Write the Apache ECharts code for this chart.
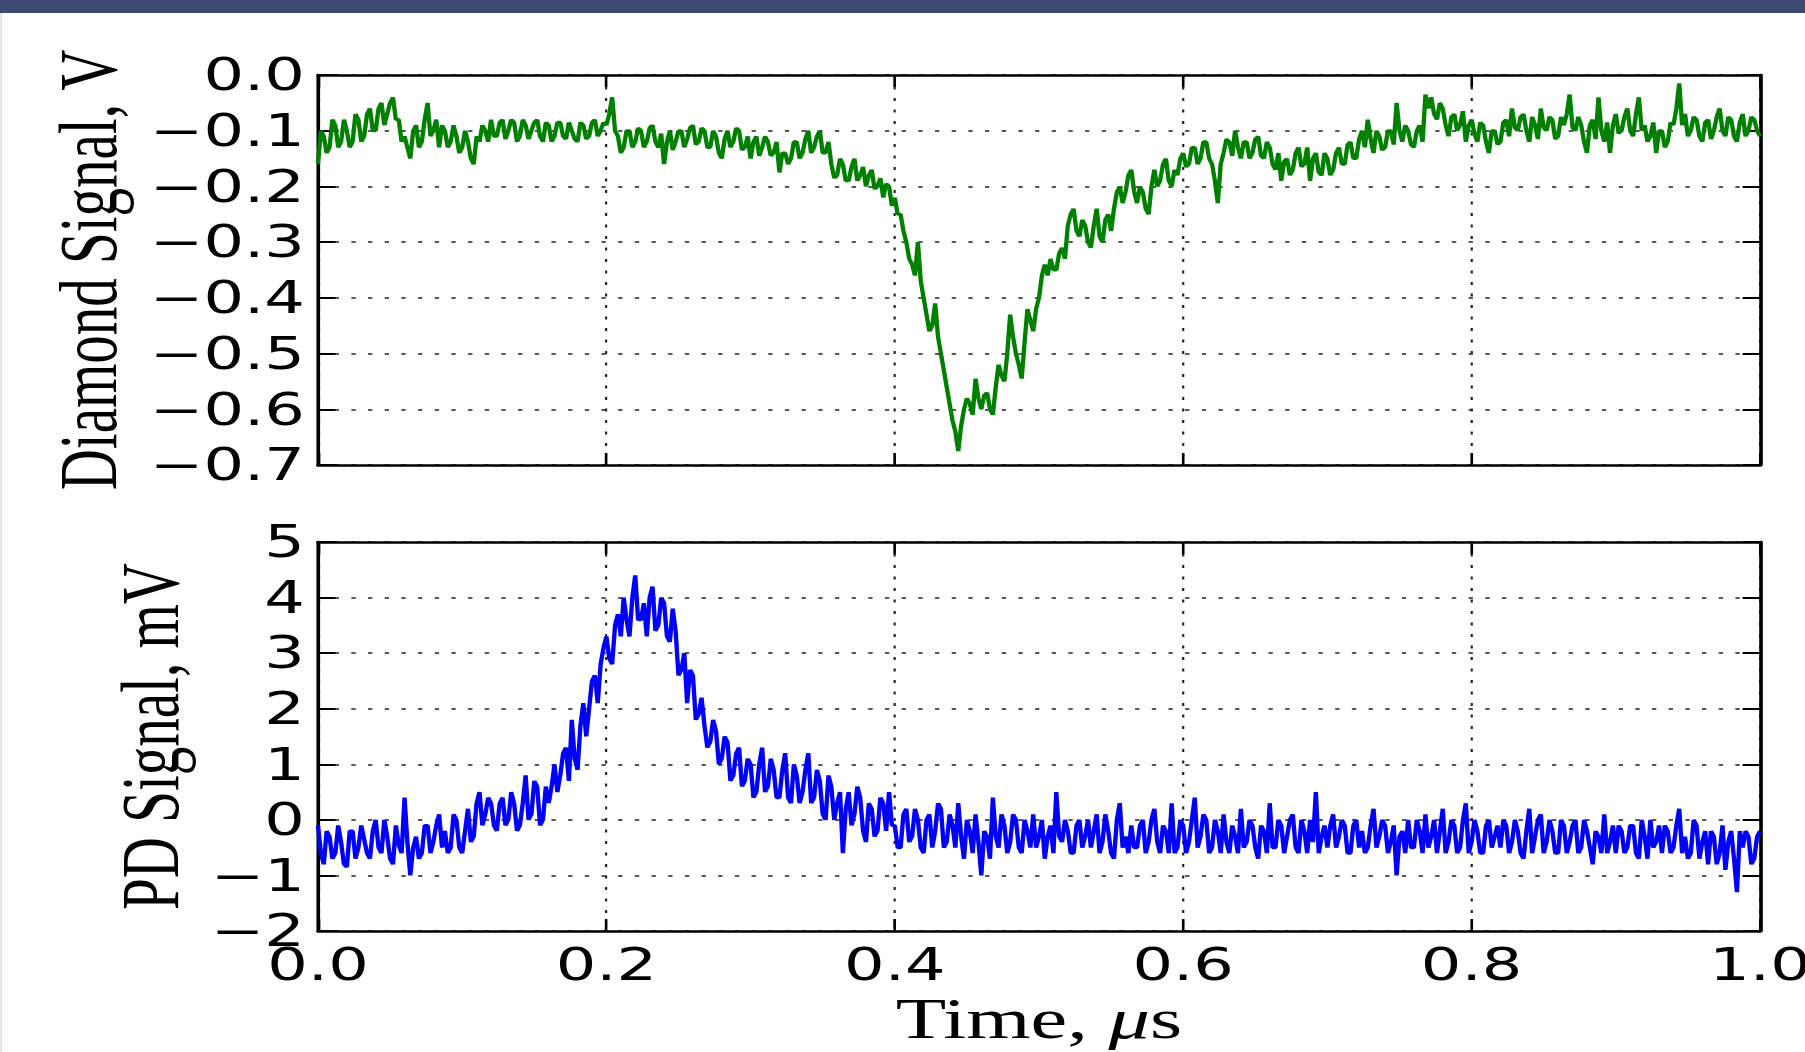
<!DOCTYPE html>
<html><head><meta charset="utf-8">
<script src="https://cdn.jsdelivr.net/npm/echarts@6/dist/echarts.min.js"></script>
<style>
html,body{margin:0;padding:0;width:1805px;height:1052px;overflow:hidden;background:#fff;}
#band{position:absolute;left:0;top:0;width:1805px;height:13px;background:#3d4873;}
#edge{position:absolute;left:0;top:13px;width:2px;height:1039px;background:#e4e4e4;}
#chart{position:absolute;left:0;top:0;height:1052px;transform-origin:0 0;}
</style></head><body>
<div id="chart"></div><div id="band"></div><div id="edge"></div>
<script>
// ---- data ----
const SAMPLE_STEP_US = 0.002;   // samples alternate: "AtGrid" (t = 0, 0.004, ...) and "Between" (t = 0.002, 0.006, ...)
const timeTickLabels = ['0.0', '0.2', '0.4', '0.6', '0.8', '1.0'];
const diamondTickLabels = ['\u22120.7', '\u22120.6', '\u22120.5', '\u22120.4', '\u22120.3', '\u22120.2', '\u22120.1', '0.0'];
const pdTickLabels = ['\u22122', '\u22121', '0', '1', '2', '3', '4', '5'];

const diamondAtGrid = [
 -0.16,-0.11,-0.13,-0.09,-0.12,-0.10,-0.12,-0.08,-0.11,-0.06,
 -0.10,-0.05,-0.07,-0.04,-0.08,-0.11,-0.15,-0.09,-0.12,-0.05,
 -0.10,-0.13,-0.10,-0.12,-0.11,
 -0.13,-0.12,-0.16,-0.12,-0.10,-0.08,-0.11,-0.08,-0.10,-0.085,
 -0.11,-0.09,-0.10,-0.08,-0.12,-0.09,-0.11,-0.085,-0.115,-0.10,
 -0.12,-0.09,-0.11,-0.08,-0.10,
 -0.09,-0.04,-0.11,-0.13,-0.10,-0.12,-0.10,-0.12,-0.09,-0.13,
 -0.16,-0.10,-0.12,-0.10,-0.115,-0.09,-0.12,-0.10,-0.13,-0.11,
 -0.15,-0.10,-0.12,-0.10,-0.13,
 -0.15,-0.11,-0.13,-0.12,-0.14,-0.175,-0.14,-0.15,-0.12,-0.14,
 -0.10,-0.13,-0.10,-0.14,-0.16,-0.18,-0.16,-0.19,-0.15,-0.18,
 -0.20,-0.17,-0.20,-0.22,-0.20,
 -0.22,-0.25,-0.30,-0.34,-0.30,-0.40,-0.46,-0.41,-0.50,-0.56,
 -0.62,-0.675,-0.60,-0.59,-0.545,-0.60,-0.57,-0.61,-0.52,-0.55,
 -0.43,-0.50,-0.545,-0.42,-0.46,
 -0.40,-0.34,-0.33,-0.35,-0.31,-0.27,-0.24,-0.29,-0.27,-0.31,
 -0.24,-0.30,-0.25,-0.24,-0.20,-0.21,-0.17,-0.23,-0.21,-0.25,
 -0.17,-0.19,-0.15,-0.20,-0.18,
 -0.14,-0.16,-0.13,-0.15,-0.12,-0.16,-0.23,-0.14,-0.12,-0.10,
 -0.15,-0.12,-0.14,-0.11,-0.15,-0.13,-0.17,-0.19,-0.15,-0.17,
 -0.13,-0.16,-0.19,-0.14,-0.18,
 -0.15,-0.17,-0.13,-0.16,-0.12,-0.15,-0.10,-0.08,-0.14,-0.11,
 -0.13,-0.10,-0.05,-0.12,-0.10,-0.13,-0.09,-0.035,-0.04,-0.08,
 -0.06,-0.11,-0.07,-0.09,-0.12,
 -0.08,-0.12,-0.09,-0.14,-0.10,-0.12,-0.08,-0.06,-0.10,-0.07,
 -0.12,-0.09,-0.06,-0.10,-0.08,-0.11,-0.09,-0.035,-0.10,-0.09,
 -0.14,-0.08,-0.04,-0.12,-0.14,
 -0.07,-0.10,-0.06,-0.11,-0.04,-0.09,-0.11,-0.14,-0.10,-0.12,
 -0.09,-0.015,-0.07,-0.10,-0.08,-0.12,-0.08,-0.10,-0.06,-0.11,
 -0.08,-0.12,-0.07,-0.10,-0.08,-0.11
];
const diamondBetween = [
 -0.10,-0.14,-0.08,-0.13,-0.08,-0.13,-0.07,-0.12,-0.07,-0.10,
 -0.06,-0.09,-0.05,-0.08,-0.12,-0.13,-0.10,-0.13,-0.08,-0.11,
 -0.08,-0.09,-0.13,-0.09,-0.14,
 -0.10,-0.15,-0.11,-0.09,-0.12,-0.11,-0.085,-0.115,-0.08,-0.12,
 -0.08,-0.115,-0.085,-0.11,-0.085,-0.12,-0.085,-0.11,-0.085,-0.115,
 -0.085,-0.115,-0.085,-0.11,-0.085,
 -0.07,-0.10,-0.14,-0.10,-0.13,-0.095,-0.13,-0.095,-0.12,-0.105,
 -0.12,-0.135,-0.10,-0.13,-0.095,-0.125,-0.095,-0.13,-0.10,-0.14,
 -0.115,-0.13,-0.095,-0.135,-0.11,
 -0.12,-0.145,-0.11,-0.145,-0.12,-0.14,-0.16,-0.12,-0.15,-0.115,
 -0.14,-0.11,-0.14,-0.12,-0.185,-0.15,-0.19,-0.165,-0.19,-0.165,
 -0.18,-0.205,-0.185,-0.195,-0.235,
 -0.25,-0.28,-0.33,-0.36,-0.37,-0.43,-0.45,-0.47,-0.53,-0.59,
 -0.64,-0.63,-0.58,-0.61,-0.58,-0.575,-0.60,-0.56,-0.54,-0.50,
 -0.47,-0.52,-0.48,-0.44,-0.42,
 -0.36,-0.36,-0.35,-0.32,-0.33,-0.25,-0.28,-0.26,-0.30,-0.27,
 -0.29,-0.26,-0.28,-0.21,-0.23,-0.18,-0.21,-0.20,-0.24,-0.20,
 -0.20,-0.16,-0.19,-0.17,-0.15,
 -0.165,-0.13,-0.16,-0.12,-0.15,-0.19,-0.16,-0.115,-0.145,-0.13,
 -0.12,-0.15,-0.115,-0.145,-0.12,-0.16,-0.14,-0.155,-0.18,-0.14,
 -0.165,-0.13,-0.15,-0.175,-0.14,
 -0.18,-0.14,-0.16,-0.125,-0.15,-0.115,-0.13,-0.115,-0.10,-0.135,
 -0.10,-0.125,-0.10,-0.09,-0.125,-0.10,-0.12,-0.06,-0.07,-0.05,
 -0.09,-0.075,-0.10,-0.065,-0.09,
 -0.105,-0.085,-0.12,-0.10,-0.125,-0.085,-0.11,-0.095,-0.075,-0.10,
 -0.075,-0.115,-0.095,-0.075,-0.115,-0.075,-0.07,-0.095,-0.075,-0.12,
 -0.09,-0.115,-0.10,-0.085,-0.09,
 -0.105,-0.075,-0.10,-0.07,-0.10,-0.12,-0.085,-0.10,-0.13,-0.085,
 -0.06,-0.09,-0.11,-0.075,-0.11,-0.085,-0.115,-0.075,-0.10,-0.075,
 -0.11,-0.085,-0.11,-0.075,-0.10
];

const pdAtGrid = [
 -0.1,-0.8,-0.3,-0.6,-0.4,-0.85,-0.2,-0.5,-0.35,-0.7,
 0.0,-0.6,-0.3,-0.8,-0.45,0.4,-1.0,-0.3,-0.6,-0.1,
 -0.4,0.1,-0.2,-0.5,0.0,
 -0.6,0.2,-0.3,0.5,0.1,0.3,-0.2,0.4,0.0,0.3,
 -0.1,0.8,0.1,0.6,0.0,0.3,1.0,0.8,1.3,1.8,
 0.9,2.1,2.0,2.6,2.8,
 3.3,2.8,3.7,4.0,3.3,4.4,3.6,3.3,4.2,3.5,
 3.9,3.2,3.4,2.7,2.1,2.6,1.9,1.7,1.4,1.6,
 1.1,1.4,0.8,1.3,0.7,
 1.0,0.5,1.3,0.6,0.9,0.4,1.2,0.3,0.8,0.5,
 1.2,0.4,0.7,0.0,0.6,0.3,-0.6,0.5,0.1,0.4,
 -0.4,0.2,-0.2,0.3,0.5,
 -0.1,-0.5,0.2,-0.3,0.0,-0.6,0.1,-0.2,0.2,-0.4,
 -0.1,0.3,-0.7,-0.2,0.1,-1.0,-0.3,0.4,-0.5,-0.1,
 -0.4,0.0,-0.6,-0.2,0.1,
 -0.3,-0.7,-0.1,0.5,-0.4,-0.2,-0.6,0.0,-0.3,-0.5,
 0.1,-0.4,-0.2,-0.7,0.3,-0.3,-0.1,-0.5,0.0,-0.4,
 0.2,-0.6,-0.2,0.3,-0.5,
 -0.1,-0.4,0.4,-0.3,0.0,-0.5,-0.2,0.1,-0.6,-0.3,
 0.2,-0.4,-0.1,-0.7,-0.2,0.3,-0.5,-0.1,-0.3,0.1,
 -0.6,-0.2,0.0,0.5,-0.3,
 -0.5,0.1,-0.3,-0.1,-0.6,0.0,-0.2,-0.5,0.2,-0.3,
 -0.1,-0.4,-1.0,-0.2,0.0,-0.5,-0.2,0.1,-0.3,-0.6,
 0.2,-0.4,-0.1,-0.5,0.3,
 -0.4,-0.2,-0.6,0.0,-0.3,-0.5,-0.1,-0.4,-0.2,-0.7,
 0.2,-0.3,0.1,-0.4,-0.2,-0.6,-0.1,-0.4,0.0,-0.5,
 -0.2,-0.8,-0.3,0.1,-0.4,
 -0.6,-0.2,-0.5,-0.1,-0.7,-0.3,0.0,-0.4,-0.6,-0.2,
 -0.5,0.2,-0.3,-0.6,-0.1,-0.4,-0.8,-0.3,-0.6,-0.9,
 -0.2,-1.3,-0.5,-0.3,-0.7,-0.2
];
const pdBetween = [
 -0.6,-0.2,-0.7,-0.1,-0.8,-0.2,-0.7,-0.1,-0.6,-0.2,
 -0.5,0.0,-0.7,-0.1,-0.6,-0.4,-0.5,-0.7,-0.1,-0.6,
 -0.1,-0.5,-0.6,0.1,-0.5,
 -0.2,-0.4,0.3,-0.1,0.4,-0.1,0.3,-0.1,0.5,-0.2,
 0.3,0.0,0.7,-0.1,0.6,0.6,0.5,1.2,0.7,1.1,
 1.7,1.5,2.5,2.1,3.1,
 2.9,3.5,3.3,3.6,4.0,3.6,3.9,4.0,3.4,4.0,
 3.3,3.8,2.6,3.0,2.7,1.8,2.2,1.3,1.8,1.0,
 1.5,0.7,1.2,0.6,1.1,
 0.4,1.0,0.5,1.1,0.4,0.9,0.4,1.0,0.3,0.9,
 0.3,0.9,0.1,0.8,0.0,0.5,0.2,-0.1,0.6,-0.2,
 0.3,-0.3,0.4,-0.2,-0.1,
 -0.5,0.1,-0.4,0.2,-0.5,0.0,-0.5,0.3,-0.5,0.1,
 -0.5,-0.3,0.0,-0.6,-0.4,-0.2,-0.7,-0.3,0.1,-0.6,
 0.1,-0.5,0.0,-0.5,-0.5,
 0.0,-0.3,-0.6,-0.3,0.0,-0.6,-0.1,-0.5,0.0,-0.2,
 -0.6,0.1,-0.6,0.0,-0.5,-0.6,-0.5,-0.1,-0.6,0.0,
 -0.4,-0.1,-0.6,-0.6,0.0,
 -0.6,0.0,-0.5,0.1,-0.6,0.0,-0.6,-0.4,-0.1,-0.6,
 -0.5,0.0,-0.5,-0.1,-0.6,-0.5,0.0,-0.6,0.0,-0.5,
 0.0,-0.6,-0.4,-0.6,-0.1,
 -0.1,-0.5,0.0,-0.6,-0.1,-0.5,-0.6,-0.1,-0.5,0.0,
 -0.6,-0.1,-0.3,-0.6,-0.5,0.0,-0.6,-0.5,0.0,-0.2,
 -0.6,0.0,-0.6,0.0,-0.6,
 0.0,-0.6,-0.1,-0.5,-0.1,0.0,-0.6,0.0,-0.6,-0.2,
 -0.6,0.0,-0.6,0.0,-0.6,0.0,-0.6,-0.1,-0.6,0.0,
 -0.5,-0.2,-0.6,-0.6,-0.1,
 -0.1,-0.6,-0.1,-0.6,0.0,-0.7,-0.5,-0.1,-0.1,-0.6,
 -0.1,-0.6,-0.7,0.0,-0.7,-0.2,-0.2,-0.8,-0.1,-0.4,
 -0.7,-0.2,-0.2,-0.8,-0.3
];

// ---- build sample table (alternating grid / between samples) ----
function buildSeries(atGrid, between) {
  const out = [];
  for (let i = 0; i < atGrid.length; i++) {
    out.push([+(2 * i * SAMPLE_STEP_US).toFixed(4), atGrid[i]]);
    if (i < between.length) out.push([+((2 * i + 1) * SAMPLE_STEP_US).toFixed(4), between[i]]);
  }
  return out;
}

// ---- layout ----
const STRETCH = 1.45;              // reference is horizontally stretched
const W0 = 1805 / STRETCH;
const el = document.getElementById('chart');
el.style.width = W0 + 'px';
el.style.transform = 'scaleX(' + STRETCH + ')';
const chart = echarts.init(el, null, { renderer: 'svg', width: W0, height: 1052 });

const px = v => v / STRETCH;
const plotLeft = px(318), plotW = px(1760 - 318);

const tickFont = { fontFamily: 'DejaVu Sans', fontSize: 44, color: '#000' };
const NAME_SIZE = 57;
const nameFont = { fontFamily: 'Liberation Serif', fontSize: NAME_SIZE, color: '#000' };
const spine = { show: true, onZero: false, lineStyle: { color: '#000', width: 2.5 } };
const gridDash = { show: true, lineStyle: { color: '#222', width: 1.5, type: [3, 8.5] } };
const tickX = { show: true, inside: true, length: 12, lineStyle: { color: '#000', width: 1.8 } };
const tickY = { show: true, inside: true, length: 12, lineStyle: { color: '#000', width: 2 } };

function labelFrom(labels, min, step) {
  return v => labels[Math.round((v - min) / step)] || '';
}
const xLab = labelFrom(timeTickLabels, 0, 0.2);
const dLab = labelFrom(diamondTickLabels, -0.7, 0.1);
const pLab = labelFrom(pdTickLabels, -2, 1);

function xAxes(g, showLabels, withName) {
  const base = { type: 'value', gridIndex: g, min: 0, max: 1, interval: 0.2 };
  const richBase = { fontFamily: 'Liberation Serif', fontSize: NAME_SIZE, color: '#000', lineHeight: 44 };
  return [
    Object.assign({}, base, {
      position: 'bottom', axisLine: spine, axisTick: tickX, splitLine: gridDash,
      axisLabel: Object.assign({ show: showLabels, margin: 12, formatter: xLab, showMinLabel: true, showMaxLabel: true, hideOverlap: false }, tickFont),
      name: withName ? '{n|Time, }{m|\u03bc}{n|s}' : '', nameLocation: 'middle', nameGap: 66,
      nameTextStyle: Object.assign({}, nameFont, { lineHeight: 44, rich: {
        n: richBase,
        m: Object.assign({}, richBase, { fontStyle: 'italic' }) } })
    }),
    Object.assign({}, base, {
      position: 'top', axisLine: spine, axisTick: tickX, splitLine: { show: false }, axisLabel: { show: false }
    })
  ];
}
function yAxes(g, min, max, step, fmt, name, gap) {
  const base = { type: 'value', gridIndex: g, min: min, max: max, interval: step };
  return [
    Object.assign({}, base, {
      position: 'left', axisLine: spine, axisTick: tickY, splitLine: gridDash,
      axisLabel: Object.assign({ margin: 9, formatter: fmt, showMinLabel: true, showMaxLabel: true, hideOverlap: false }, tickFont),
      name: name, nameLocation: 'middle', nameGap: gap, nameTextStyle: nameFont
    }),
    Object.assign({}, base, {
      position: 'right', axisLine: spine, axisTick: tickY, splitLine: { show: false }, axisLabel: { show: false }
    })
  ];
}

chart.setOption({
  animation: false,
  backgroundColor: '#fff',
  grid: [
    { left: plotLeft, top: 75, width: plotW, height: 390, containLabel: false, outerBoundsMode: 'none' },
    { left: plotLeft, top: 542, width: plotW, height: 389, containLabel: false, outerBoundsMode: 'none' }
  ],
  xAxis: [].concat(xAxes(0, false, false), xAxes(1, true, true)),
  yAxis: [].concat(
    yAxes(0, -0.7, 0, 0.1, dLab, 'Diamond Signal, V', 130),
    yAxes(1, -2, 5, 1, pLab, 'PD Signal, mV', 87)
  ),
  series: [
    { type: 'line', xAxisIndex: 0, yAxisIndex: 0, showSymbol: false, clip: true,
      lineStyle: { color: '#008000', width: 3 }, itemStyle: { color: '#008000' },
      data: buildSeries(diamondAtGrid, diamondBetween) },
    { type: 'line', xAxisIndex: 2, yAxisIndex: 2, showSymbol: false, clip: true,
      lineStyle: { color: '#0000ff', width: 3 }, itemStyle: { color: '#0000ff' },
      data: buildSeries(pdAtGrid, pdBetween) }
  ]
});
</script></body></html>
